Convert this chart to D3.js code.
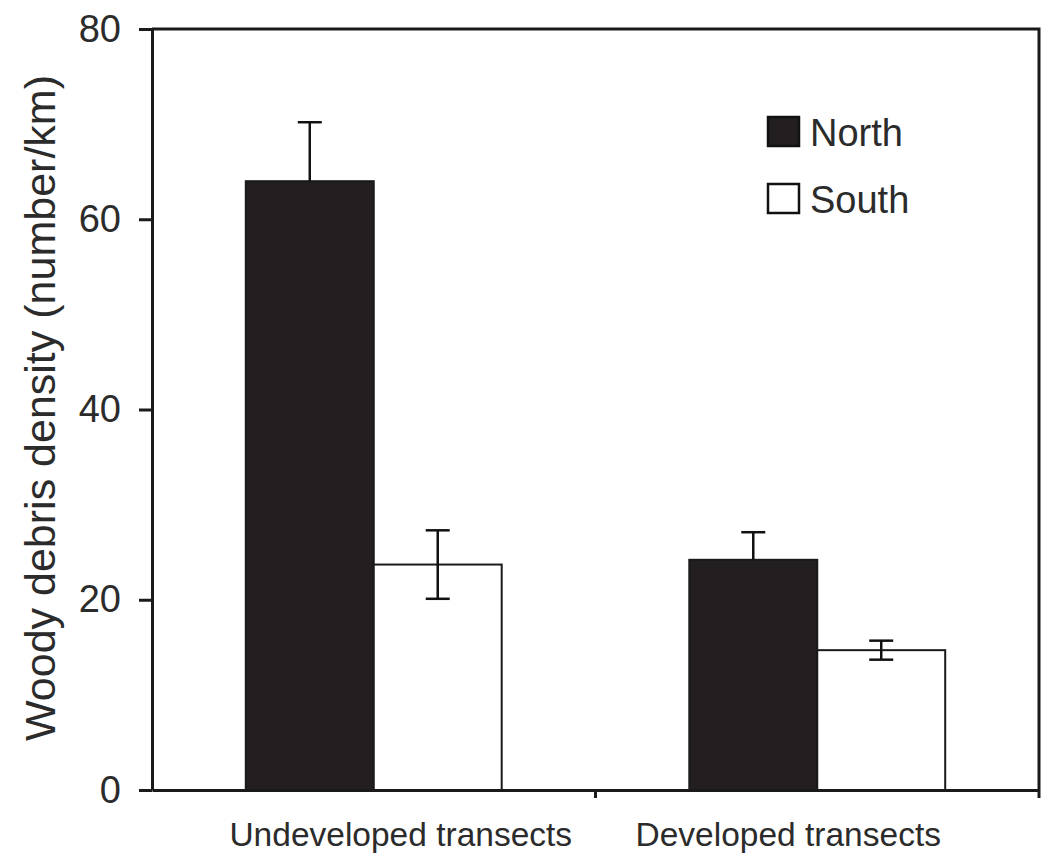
<!DOCTYPE html>
<html>
<head>
<meta charset="utf-8">
<script src="https://cdn.jsdelivr.net/npm/d3@7"></script>
<style>
  body { margin: 0; background: #fff; }
  text { font-family: "Liberation Sans", Arial, sans-serif; fill: #2b2b2b; }
</style>
</head>
<body>
<script>
// data
const categories = ["Undeveloped transects", "Developed transects"];
const series = ["North", "South"];
const northValues = [64.0, 24.2];
const northErrors = [6.2, 2.9];
const southValues = [23.7, 14.7];
const southErrors = [3.6, 1.0];
const yTicks = [0, 20, 40, 60, 80];

const svgSize = { width: 1047, height: 857 };
const plot = { left: 152, right: 1039, top: 29, bottom: 790 };

const rows = [];
categories.forEach((c, i) => {
    rows.push({ cat: c, s: "North", v: northValues[i], e: northErrors[i] });
    rows.push({ cat: c, s: "South", v: southValues[i], e: southErrors[i] });
});

const colorMap = { North: "#231f20", South: "#ffffff" };

const svg = d3.select('body')
    .append('svg')
    .attr('width', svgSize.width)
    .attr('height', svgSize.height);

const x0 = d3.scaleBand()
    .domain(categories)
    .range([plot.left, plot.right])
    .paddingInner(0.423)
    .paddingOuter(0.2115);
const x1 = d3.scaleBand()
    .domain(series)
    .range([0, x0.bandwidth()]);
const y = d3.scaleLinear()
    .domain([0, 80])
    .range([plot.bottom, plot.top]);

// bars
svg.append('g').selectAll('rect')
    .data(rows)
    .enter()
    .append('rect')
    .attr('x', d => x0(d.cat) + x1(d.s))
    .attr('y', d => y(d.v))
    .attr('width', x1.bandwidth())
    .attr('height', d => y(0) - y(d.v))
    .attr('fill', d => colorMap[d.s])
    .attr('stroke', '#1a1a1a')
    .attr('stroke-width', 2);

// error bars
const capW = 24;
const eb = svg.append('g')
    .attr('stroke', '#111')
    .attr('stroke-width', 2.5);
rows.forEach(d => {
    const cx = x0(d.cat) + x1(d.s) + x1.bandwidth() / 2;
    const lo = d.s === "North" ? d.v : d.v - d.e;
    eb.append('line')
        .attr('x1', cx).attr('x2', cx)
        .attr('y1', y(d.v + d.e)).attr('y2', y(lo));
    eb.append('line')
        .attr('x1', cx - capW / 2).attr('x2', cx + capW / 2)
        .attr('y1', y(d.v + d.e)).attr('y2', y(d.v + d.e));
    if (d.s !== "North") {
        eb.append('line')
            .attr('x1', cx - capW / 2).attr('x2', cx + capW / 2)
            .attr('y1', y(d.v - d.e)).attr('y2', y(d.v - d.e));
    }
});

// frame (top and right)
svg.append('path')
    .attr('d', `M${plot.left},${plot.top}H${plot.right}V${plot.bottom}`)
    .attr('fill', 'none')
    .attr('stroke', '#1a1a1a')
    .attr('stroke-width', 3);

// y axis
const yAxis = d3.axisLeft(y)
    .tickValues(yTicks)
    .tickSize(13)
    .tickPadding(18)
    .tickSizeOuter(0);
const gy = svg.append('g')
    .attr('transform', `translate(${plot.left},0)`)
    .call(yAxis);
gy.select('.domain').attr('stroke', '#1a1a1a').attr('stroke-width', 3);
gy.selectAll('.tick line').attr('stroke', '#1a1a1a').attr('stroke-width', 3);
gy.selectAll('.tick text')
    .attr('font-size', 38)
    .attr('font-family', '"Liberation Sans", Arial, sans-serif')
    .attr('fill', '#3a3a3a');

// x axis
const xAxis = d3.axisBottom(x0)
    .tickSize(0)
    .tickPadding(32)
    .tickSizeOuter(0);
const gx = svg.append('g')
    .attr('transform', `translate(0,${plot.bottom})`)
    .call(xAxis);
gx.select('.domain').attr('stroke', '#1a1a1a').attr('stroke-width', 3);
gx.selectAll('.tick text')
    .attr('font-size', 33.5)
    .attr('font-family', '"Liberation Sans", Arial, sans-serif')
    .attr('fill', '#2b2b2b')
    .attr('dx', (d, i) => i === 0 ? 27 : -29);
// category boundary tick marks
const bounds = [(x0(categories[0]) + x0.bandwidth() + x0(categories[1])) / 2, plot.right];
svg.append('g').selectAll('line')
    .data(bounds)
    .enter()
    .append('line')
    .attr('x1', d => d).attr('x2', d => d)
    .attr('y1', plot.bottom).attr('y2', plot.bottom + 8)
    .attr('stroke', '#1a1a1a')
    .attr('stroke-width', 3);

// y axis title
svg.append('text')
    .attr('transform', 'translate(55,408) rotate(-90)')
    .attr('text-anchor', 'middle')
    .attr('font-size', 43)
    .attr('fill', '#3a3a3a')
    .text('Woody debris density (number/km)');

// legend
const legend = svg.append('g').attr('transform', 'translate(768,117)');
series.forEach((s, i) => {
    const g = legend.append('g').attr('transform', `translate(0,${i * 67})`);
    g.append('rect')
        .attr('width', 31).attr('height', 29)
        .attr('fill', colorMap[s])
        .attr('stroke', '#111')
        .attr('stroke-width', 2.5);
    g.append('text')
        .attr('x', 42).attr('y', 29)
        .attr('font-size', 38)
        .attr('fill', '#333')
        .text(s);
});
</script>
</body>
</html>
